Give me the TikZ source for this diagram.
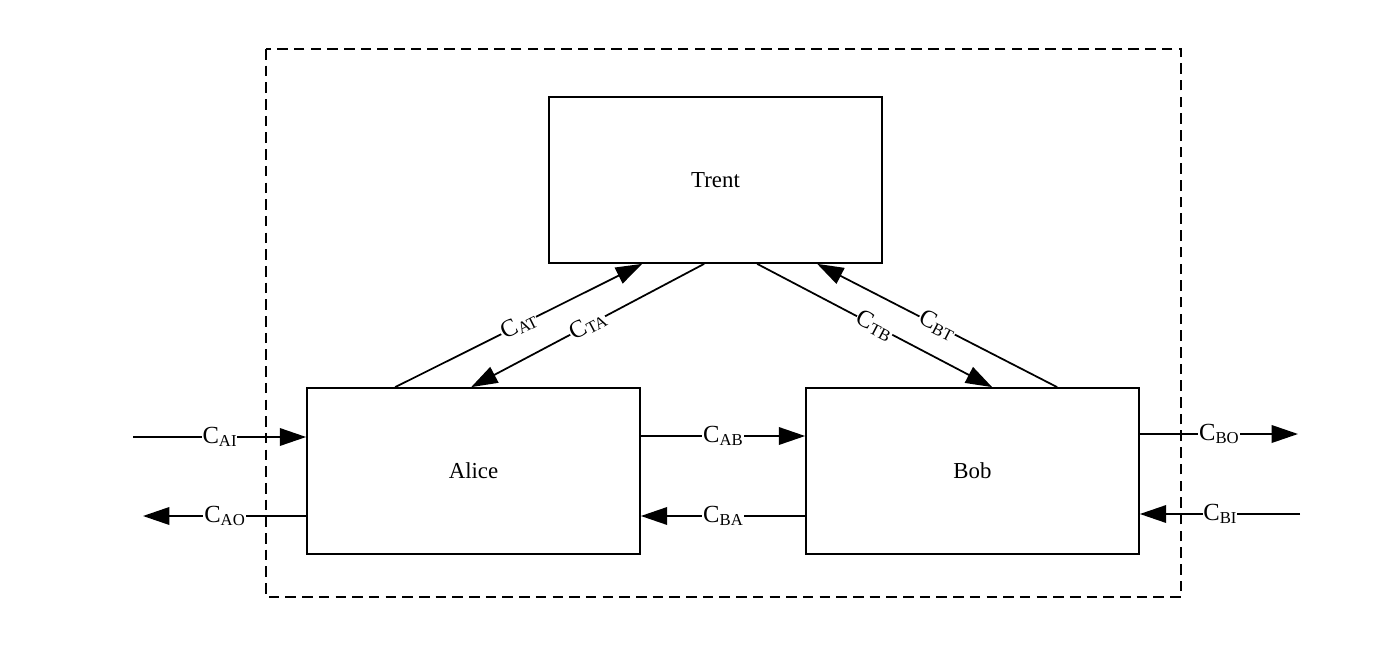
\documentclass[tikz,border=0pt]{standalone}
\usepackage{fontspec}
\setmainfont{Liberation Serif}
\usetikzlibrary{arrows.meta,calc}
\begin{document}
\begin{tikzpicture}[x=0.02cm,y=-0.02cm,
  party/.style={draw,line width=1pt,minimum width=6.66cm,minimum height=3.32cm,inner sep=0pt,font=\fontsize{13}{15}\selectfont},
  chan/.style={line width=1pt,-{Triangle[length=15pt,width=10pt]}},
  lab/.style={fill=white,inner sep=0.5pt,font=\fontsize{14}{16}\selectfont},
  frame/.style={draw,line width=1pt,dash pattern=on 6pt off 3.5pt}]
\useasboundingbox (0,0) rectangle (1400,649);
\path[frame] (266,49) rectangle (1181,597);
\node[party] (trent) at (715.5,180) {Trent};
\node[party] (alice) at (473.5,471) {Alice};
\node[party] (bob) at (972.5,471) {Bob};
\newcommand{\ch}[1]{C{\fontsize{9.5}{10}\selectfont\raisebox{-0.35ex}{#1}}}
% Alice <-> Trent
\coordinate (a1) at ($(alice.north west)+(89,0)$);
\coordinate (t1) at ($(trent.south west)+(94,0)$);
\coordinate (t2) at ($(trent.south west)+(156,0)$);
\coordinate (a2) at ($(alice.north west)+(165,0)$);
\draw[chan] (a1) -- node[lab,sloped] {\ch{AT}} (t1);
\draw[chan] (t2) -- node[lab,sloped] {\ch{TA}} (a2);
% Trent <-> Bob
\coordinate (t3) at ($(trent.south west)+(209,0)$);
\coordinate (b1) at ($(bob.north west)+(187,0)$);
\coordinate (b2) at ($(bob.north west)+(252,0)$);
\coordinate (t4) at ($(trent.south west)+(269,0)$);
\draw[chan] (t3) -- node[lab,sloped] {\ch{TB}} (b1);
\draw[chan] (b2) -- node[lab,sloped] {\ch{BT}} (t4);
% Alice <-> Bob
\coordinate (ab1) at ($(alice.west)!0.5!(alice.east)+(166.5,-35)$);
\draw[chan] ([yshift=0.7cm]alice.east) -- node[lab] {\ch{AB}} ([yshift=0.7cm]bob.west);
\draw[chan] ([yshift=-0.9cm]bob.west) -- node[lab] {\ch{BA}} ([yshift=-0.9cm]alice.east);
% external
\coordinate (ain) at (133,437);
\coordinate (aout) at (143,516);
\coordinate (bout) at (1298,434);
\coordinate (bin) at (1300,514);
\draw[chan] (ain) -- node[lab] {\ch{AI}} (ain -| alice.west);
\draw[chan] (aout -| alice.west) -- node[lab] {\ch{AO}} (aout);
\draw[chan] (bout -| bob.east) -- node[lab] {\ch{BO}} (bout);
\draw[chan] (bin) -- node[lab] {\ch{BI}} (bin -| bob.east);
\end{tikzpicture}
\end{document}
